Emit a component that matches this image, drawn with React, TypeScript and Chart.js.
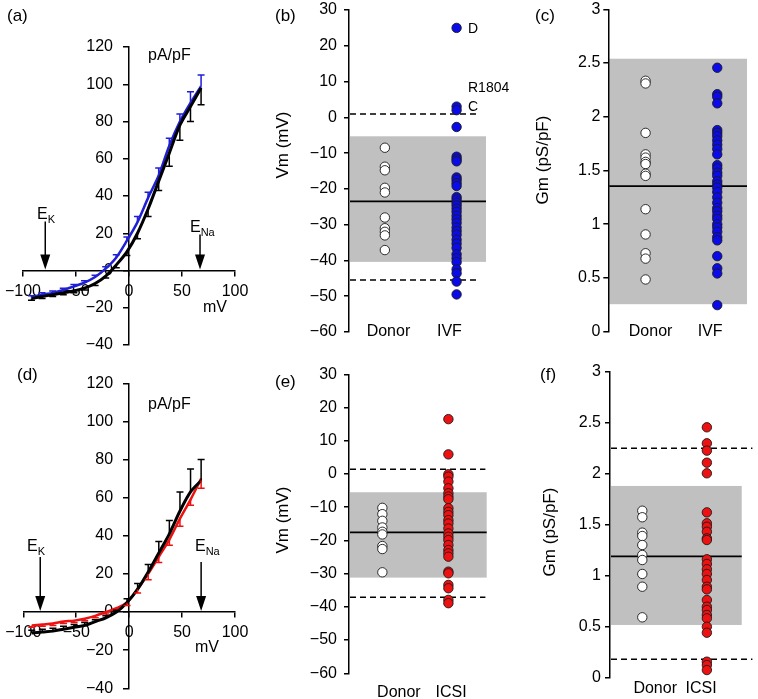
import React, { useEffect, useRef } from 'react';
import { Chart, registerables } from 'chart.js';

Chart.register(...registerables);

const FONT = '"Liberation Sans", Arial, Helvetica, sans-serif';

// ---------------- Data ----------------
// I–V relations (mV, pA/pF)
const ivVoltage = [-92, -82, -72, -62, -52, -42, -32, -22, -12, -2, 8, 18, 28, 38, 48, 58, 68];
const ivfCurrent = [-14.5, -13, -12, -10.5, -8.5, -6.5, -3.5, 1, 7, 16, 26, 39, 51, 67, 80, 90, 99];
const ivfSem = [1, 1, 1, 1, 1, 1, 1, 1, 1.5, 2, 3, 3, 4, 4, 4, 6, 6];
const donorCurrentA = [-15, -14, -13, -12, -11, -9.5, -7, -3, 3, 10, 20, 33, 48, 63, 78, 88, 98];
const donorSemA = [1, 1, 1, 1, 1, 1, 1, 1, 1.5, 2, 3, 4, 5, 7, 8, 8, 9];
const icsiCurrent = [-7, -6.5, -6, -5, -4.5, -3.5, -2, 0, 2, 5, 12, 20, 29, 38, 49, 59, 70];
const icsiSem = [1, 1, 1, 1, 1, 1, 1, 1, 1, 1.5, 2, 3, 3, 3, 4, 3, 5];
const donorCurrentD = [-11, -10.5, -10, -9, -8, -7, -5, -3, 0, 5, 12, 21, 31, 41, 53, 63, 69];
const donorSemD = [1.5, 1.5, 1.5, 1.5, 1.5, 1.5, 1, 1, 1, 2, 3, 4, 6, 7, 10, 12, 11];
const reversalIVF = [-79, 67]; // E_K, E_Na
const reversalICSI = [-84, 68];

// Categories
const groupsIVF = ['Donor', 'IVF'];
const groupsICSI = ['Donor', 'ICSI'];

// Membrane potential (mV)
const vmDonorIVF = [-8.5, -13.8, -14.8, -19.7, -21, -28, -31, -32, -33, -37.1];
const vmIVF = [25, 3, 2, -2.7, -11, -11.7, -12.3, -16.8, -17.5, -18.4, -19.2, -22.3, -23, -23.8, -24.6, -25.5, -26.4, -27.5, -28.5, -29.5, -30.8, -31.8, -32.8, -34.2, -35.3, -36.5, -38.3, -39.4, -40.5, -42.5, -43.6, -45.9, -49.5];
const vmDonorICSI = [-10.2, -12.1, -14.1, -16.1, -17.4, -18.2, -21.7, -22.6, -29.6];
const vmICSI = [16.5, 5.9, -0.1, -0.8, -2.3, -4.3, -5.8, -6.8, -7.6, -10.3, -11.4, -12.4, -13.9, -14.9, -16.4, -17.9, -18.9, -19.9, -21.4, -22.9, -23.9, -24.9, -29.4, -29.9, -33.4, -34.4, -37.9, -38.9];

// Membrane conductance (pS/pF)
const gmDonorIVF = [2.335, 2.31, 1.85, 1.65, 1.62, 1.58, 1.56, 1.47, 1.45, 1.14, 0.905, 0.73, 0.68, 0.486];
const gmIVF = [2.456, 2.21, 2.186, 2.125, 1.876, 1.85, 1.82, 1.78, 1.74, 1.7, 1.65, 1.55, 1.52, 1.48, 1.45, 1.4, 1.37, 1.34, 1.3, 1.25, 1.2, 1.15, 1.12, 1.08, 1.05, 1.0, 0.97, 0.93, 0.88, 0.85, 0.703, 0.59, 0.542, 0.247];
const gmDonorICSI = [1.637, 1.573, 1.422, 1.389, 1.301, 1.203, 1.154, 1.017, 0.892, 0.592];
const gmICSI = [2.455, 2.298, 2.226, 2.108, 2.004, 1.621, 1.514, 1.48, 1.431, 1.366, 1.35, 1.161, 1.115, 1.063, 1.017, 0.958, 0.892, 0.866, 0.762, 0.696, 0.664, 0.615, 0.582, 0.5, 0.441, 0.157, 0.124, 0.075];

// Donor reference range (band top/bottom), mean, and limits
const vmBandIVF = [-5.3, -40.4];
const vmMeanIVF = -23.5;
const vmLimitsIVF = [0.9, -45.5];
const gmBandIVF = [2.54, 0.256];
const gmMeanIVF = 1.355;
const vmBandICSI = [-5.5, -31.2];
const vmMeanICSI = -17.6;
const vmLimitsICSI = [1.4, -37.1];
const gmBandICSI = [1.88, 0.517];
const gmMeanICSI = 1.19;
const gmLimitsICSI = [2.249, 0.18];

// Annotated cells in (b)
const notedCells = [
  { value: 25, label: 'D' },
  { value: 3, label: 'R1804' },
  { value: 2, label: 'C' },
];

// ---------------- helpers ----------------
const fmt = (v: number) => String(+v.toFixed(3)).replace('-', '\u2212');

function text(ctx: CanvasRenderingContext2D, s: string, x: number, y: number, size: number, align: CanvasTextAlign = 'left') {
  ctx.save();
  ctx.font = `${size}px ${FONT}`;
  ctx.fillStyle = '#000';
  ctx.textAlign = align;
  ctx.textBaseline = 'middle';
  ctx.fillText(s, x, y);
  ctx.restore();
}

function subText(ctx: CanvasRenderingContext2D, main: string, sub: string, x: number, y: number) {
  text(ctx, main, x, y, 16);
  ctx.save();
  ctx.font = `16px ${FONT}`;
  const w = ctx.measureText(main).width;
  ctx.restore();
  text(ctx, sub, x + w, y + 5, 11);
}

function vText(ctx: CanvasRenderingContext2D, s: string, x: number, y: number, size: number) {
  ctx.save();
  ctx.translate(x, y);
  ctx.rotate(-Math.PI / 2);
  text(ctx, s, 0, 0, size, 'center');
  ctx.restore();
}

function arrowDown(ctx: CanvasRenderingContext2D, x: number, yTop: number, yTip: number) {
  ctx.save();
  ctx.strokeStyle = '#000';
  ctx.fillStyle = '#000';
  ctx.lineWidth = 1.5;
  ctx.beginPath();
  ctx.moveTo(x, yTop);
  ctx.lineTo(x, yTip - 12);
  ctx.stroke();
  ctx.beginPath();
  ctx.moveTo(x - 5, yTip - 15);
  ctx.lineTo(x + 5, yTip - 15);
  ctx.lineTo(x, yTip);
  ctx.closePath();
  ctx.fill();
  ctx.restore();
}

function hLine(ctx: CanvasRenderingContext2D, x1: number, x2: number, y: number, dash: number[], w = 1.5) {
  ctx.save();
  ctx.strokeStyle = '#000';
  ctx.lineWidth = w;
  ctx.setLineDash(dash);
  ctx.beginPath();
  ctx.moveTo(x1, y);
  ctx.lineTo(x2, y);
  ctx.stroke();
  ctx.restore();
}

const zeroPad = (scale: any) => {
  scale.paddingTop = 0;
  scale.paddingBottom = 0;
  scale.paddingLeft = 0;
  scale.paddingRight = 0;
};

const axisGrid = { display: true, drawOnChartArea: false, drawTicks: true, tickLength: 5, color: '#000', lineWidth: 1.5 };
const axisBorder = { display: true, color: '#000', width: 1.5 };

// ---------------- I–V panel ----------------
type IVSpec = {
  colored: number[];
  coloredSem: number[];
  color: string;
  donor: number[];
  donorSem: number[];
  donorDir: number;
  coloredDir: number;
  reversal: number[];
  padding: { left: number; right: number; top: number; bottom: number };
  deco: (ctx: CanvasRenderingContext2D, chart: any) => void;
};

function ivConfig(s: IVSpec): any {
  const pts = (vals: number[]) => ivVoltage.map((v, i) => ({ x: v, y: vals[i] }));
  const errPlugin = {
    id: 'errbars',
    afterDatasetsDraw(chart: any) {
      const ctx = chart.ctx as CanvasRenderingContext2D;
      const xs = chart.scales.x;
      const ys = chart.scales.y;
      const draw = (vals: number[], sem: number[], dir: number, color: string) => {
        ctx.save();
        ctx.strokeStyle = color;
        ctx.lineWidth = 1.5;
        vals.forEach((v, i) => {
          const x = xs.getPixelForValue(ivVoltage[i]);
          const y0 = ys.getPixelForValue(v);
          const y1 = ys.getPixelForValue(v + dir * sem[i]);
          ctx.beginPath();
          ctx.moveTo(x, y0);
          ctx.lineTo(x, y1);
          ctx.moveTo(x - 3.5, y1);
          ctx.lineTo(x + 3.5, y1);
          ctx.stroke();
        });
        ctx.restore();
      };
      draw(s.colored, s.coloredSem, s.coloredDir, s.color);
      draw(s.donor, s.donorSem, s.donorDir, '#000');
    },
    afterDraw(chart: any) {
      const ctx = chart.ctx as CanvasRenderingContext2D;
      const xs = chart.scales.x;
      const ys = chart.scales.y;
      s.deco(ctx, { x: (v: number) => xs.getPixelForValue(v), y: (v: number) => ys.getPixelForValue(v) });
    },
  };
  return {
    type: 'scatter',
    data: {
      datasets: [
        {
          data: pts(s.donor),
          showLine: true,
          borderColor: '#000',
          borderWidth: 3,
          pointRadius: 0,
          tension: 0.3,
        },
        {
          data: pts(s.colored),
          showLine: true,
          borderColor: s.color,
          borderWidth: 2.5,
          pointRadius: 0,
          tension: 0.3,
        },
      ],
    },
    options: {
      animation: false,
      responsive: false,
      events: [],
      layout: { padding: s.padding },
      plugins: { legend: { display: false }, tooltip: { enabled: false } },
      scales: {
        x: {
          type: 'linear',
          min: -100,
          max: 100,
          position: { y: 0 },
          afterFit: zeroPad,
          ticks: { stepSize: 50, color: '#000', font: { family: FONT, size: 16 }, padding: 6, maxRotation: 0, autoSkip: false, callback: (v: any) => fmt(+v) },
          grid: axisGrid,
          border: axisBorder,
        },
        y: {
          type: 'linear',
          min: -40,
          max: 120,
          position: { x: 0 },
          afterFit: zeroPad,
          ticks: {
            stepSize: 20,
            color: '#000',
            font: { family: FONT, size: 16 },
            padding: 6,
            autoSkip: false,
            // labels of a centred axis are right-aligned on the axis line; keep a gap
            callback: (v: any) => fmt(+v) + '\u2002\u2002',
          },
          grid: axisGrid,
          border: axisBorder,
        },
      },
    },
    plugins: [errPlugin],
  };
}

// ---------------- scatter panel ----------------
type ScatterSpec = {
  groups: string[];
  donor: number[];
  patient: number[];
  color: string;
  yMin: number;
  yMax: number;
  yStep: number;
  xMin: number;
  xMax: number;
  labelX: number[];
  labelPad: number;
  tickPad: number;
  axisWidth: number;
  padding: { left: number; right: number; top: number; bottom: number };
  band: number[];
  bandRight: number;
  mean: number;
  limits?: number[];
  limitRight?: number;
  deco: (ctx: CanvasRenderingContext2D, p: any) => void;
};

function scatterConfig(s: ScatterSpec): any {
  const plugin = {
    id: 'ranges',
    beforeDraw(chart: any) {
      const ctx = chart.ctx as CanvasRenderingContext2D;
      const xs = chart.scales.x;
      const ys = chart.scales.y;
      const x1 = xs.getPixelForValue(s.xMin) + 1;
      const x2 = xs.getPixelForValue(s.bandRight);
      const yT = ys.getPixelForValue(s.band[0]);
      const yB = ys.getPixelForValue(s.band[1]);
      ctx.save();
      ctx.fillStyle = '#c0c0c0';
      ctx.fillRect(x1, yT, x2 - x1, yB - yT);
      ctx.restore();
    },
    beforeDatasetsDraw(chart: any) {
      const ctx = chart.ctx as CanvasRenderingContext2D;
      const xs = chart.scales.x;
      const ys = chart.scales.y;
      const x1 = xs.getPixelForValue(s.xMin) + 1;
      hLine(ctx, x1, xs.getPixelForValue(s.bandRight), ys.getPixelForValue(s.mean), [], 1.8);
      if (s.limits && s.limitRight !== undefined) {
        s.limits.forEach((l) => hLine(ctx, x1, xs.getPixelForValue(s.limitRight as number), ys.getPixelForValue(l), [6, 4], 1.5));
      }
    },
    afterDraw(chart: any) {
      const ctx = chart.ctx as CanvasRenderingContext2D;
      const xs = chart.scales.x;
      const ys = chart.scales.y;
      s.deco(ctx, { x: (v: number) => xs.getPixelForValue(v), y: (v: number) => ys.getPixelForValue(v) });
    },
  };
  return {
    type: 'scatter',
    data: {
      datasets: [
        {
          data: s.patient.map((v) => ({ x: 1, y: v })),
          backgroundColor: s.color,
          borderColor: '#1a1a1a',
          borderWidth: 0.9,
          pointRadius: 4.7,
        },
        {
          data: s.donor.map((v) => ({ x: 0, y: v })),
          backgroundColor: '#ffffff',
          borderColor: '#1a1a1a',
          borderWidth: 0.9,
          pointRadius: 4.7,
        },
      ],
    },
    options: {
      animation: false,
      responsive: false,
      events: [],
      layout: { padding: s.padding },
      plugins: { legend: { display: false }, tooltip: { enabled: false } },
      scales: {
        x: {
          type: 'linear',
          min: s.xMin,
          max: s.xMax,
          position: { y: s.yMin },
          afterFit: zeroPad,
          afterBuildTicks: (scale: any) => {
            scale.ticks = s.labelX.map((v) => ({ value: v }));
          },
          ticks: {
            color: '#000',
            font: { family: FONT, size: 16 },
            padding: s.labelPad,
            maxRotation: 0,
            autoSkip: false,
            callback: (_v: any, i: number) => s.groups[i],
          },
          grid: { display: false, drawTicks: false },
          border: { display: false },
        },
        y: {
          type: 'linear',
          min: s.yMin,
          max: s.yMax,
          position: 'left',
          afterFit: (scale: any) => {
            zeroPad(scale);
            scale.width = s.axisWidth;
          },
          ticks: { stepSize: s.yStep, color: '#000', font: { family: FONT, size: 16 }, padding: s.tickPad, autoSkip: false, callback: (v: any) => fmt(+v) },
          grid: axisGrid,
          border: axisBorder,
        },
      },
    },
    plugins: [plugin],
  };
}

// ---------------- panels ----------------
type PanelDef = { left: number; top: number; width: number; height: number; make: () => any };

const panels: PanelDef[] = [
  {
    left: 0, top: 0, width: 250, height: 360,
    make: () => ivConfig({
      colored: ivfCurrent, coloredSem: ivfSem, coloredDir: 1, color: '#1f1fd6',
      donor: donorCurrentA, donorSem: donorSemA, donorDir: -1,
      reversal: reversalIVF,
      padding: { left: 23, right: 15, top: 47, bottom: 15 },
      deco: (ctx, p) => {
        text(ctx, '(a)', 7, 16, 17);
        text(ctx, 'pA/pF', 148, 56, 16);
        text(ctx, 'mV', 203, 308, 16);
        const y0 = p.y(0);
        subText(ctx, 'E', 'K', 37, 215);
        arrowDown(ctx, p.x(reversalIVF[0]), y0 - 49, y0 - 1);
        subText(ctx, 'E', 'Na', 190, 228);
        arrowDown(ctx, p.x(reversalIVF[1]), y0 - 36, y0 - 1);
      },
    }),
  },
  {
    left: 250, top: 0, width: 265, height: 360,
    make: () => scatterConfig({
      groups: groupsIVF, donor: vmDonorIVF, patient: vmIVF, color: '#0b0bea',
      yMin: -60, yMax: 30, yStep: 10, xMin: -0.5, xMax: 1.41,
      labelX: [0.05, 0.9], labelPad: -9.6, tickPad: 7, axisWidth: 79,
      padding: { left: 20, right: 29, top: 10, bottom: 28 },
      band: vmBandIVF, bandRight: 1.41, mean: vmMeanIVF, limits: vmLimitsIVF, limitRight: 1.325,
      deco: (ctx, p) => {
        text(ctx, '(b)', 25, 16, 17);
        vText(ctx, 'Vm (mV)', 33, 145, 17);
        text(ctx, notedCells[0].label, 218, p.y(notedCells[0].value) + 1, 14);
        text(ctx, notedCells[1].label, 218, p.y(notedCells[1].value) - 18, 14);
        text(ctx, notedCells[2].label, 218, p.y(notedCells[2].value) - 3, 14);
      },
    }),
  },
  {
    left: 500, top: 0, width: 258, height: 360,
    make: () => scatterConfig({
      groups: groupsIVF, donor: gmDonorIVF, patient: gmIVF, color: '#0b0bea',
      yMin: 0, yMax: 3, yStep: 0.5, xMin: -0.52, xMax: 1.415,
      labelX: [0.07, 0.9], labelPad: -9.6, tickPad: 3, axisWidth: 88.3,
      padding: { left: 20, right: 11, top: 9.3, bottom: 28.3 },
      band: gmBandIVF, bandRight: 1.415, mean: gmMeanIVF,
      deco: (ctx) => {
        text(ctx, '(c)', 35, 16, 17);
        vText(ctx, 'Gm (pS/pF)', 43, 160, 17);
      },
    }),
  },
  {
    left: 0, top: 340, width: 250, height: 359,
    make: () => ivConfig({
      colored: icsiCurrent, coloredSem: icsiSem, coloredDir: -1, color: '#ee1111',
      donor: donorCurrentD, donorSem: donorSemD, donorDir: 1,
      reversal: reversalICSI,
      padding: { left: 23.3, right: 15, top: 43.3, bottom: 10.7 },
      deco: (ctx, p) => {
        text(ctx, '(d)', 17, 35, 17);
        text(ctx, 'pA/pF', 148, 65, 16);
        text(ctx, 'mV', 195, 308, 16);
        const y0 = p.y(0);
        subText(ctx, 'E', 'K', 27, 207);
        arrowDown(ctx, p.x(reversalICSI[0]), y0 - 55, y0 - 1);
        subText(ctx, 'E', 'Na', 195, 207);
        arrowDown(ctx, p.x(reversalICSI[1]), y0 - 50, y0 - 1);
      },
    }),
  },
  {
    left: 250, top: 340, width: 265, height: 359,
    make: () => scatterConfig({
      groups: groupsICSI, donor: vmDonorICSI, patient: vmICSI, color: '#ee1111',
      yMin: -60, yMax: 30, yStep: 10, xMin: -0.505, xMax: 1.58,
      labelX: [0.25, 1.04], labelPad: 10.1, tickPad: 7, axisWidth: 79,
      padding: { left: 20, right: 28.3, top: 34.3, bottom: 25.7 },
      band: vmBandICSI, bandRight: 1.58, mean: vmMeanICSI, limits: vmLimitsICSI, limitRight: 1.56,
      deco: (ctx) => {
        text(ctx, '(e)', 25, 42, 17);
        vText(ctx, 'Vm (mV)', 33, 180, 17);
      },
    }),
  },
  {
    left: 500, top: 340, width: 258, height: 359,
    make: () => scatterConfig({
      groups: groupsICSI, donor: gmDonorICSI, patient: gmICSI, color: '#ee1111',
      yMin: 0, yMax: 3, yStep: 0.5, xMin: -0.5, xMax: 1.705,
      labelX: [0.2, 0.91], labelPad: 1, tickPad: 4, axisWidth: 90,
      padding: { left: 20, right: 1, top: 31.7, bottom: 21.3 },
      band: gmBandICSI, bandRight: 1.54, mean: gmMeanICSI, limits: gmLimitsICSI, limitRight: 1.705,
      deco: (ctx) => {
        text(ctx, '(f)', 40, 35, 17);
        vText(ctx, 'Gm (pS/pF)', 50, 192, 17);
      },
    }),
  },
];

function ChartPanel({ def }: { def: PanelDef }) {
  const ref = useRef<HTMLCanvasElement>(null);
  useEffect(() => {
    const chart = new Chart(ref.current as HTMLCanvasElement, def.make());
    return () => chart.destroy();
  }, []);
  return (
    <canvas
      ref={ref}
      width={def.width}
      height={def.height}
      style={{ position: 'absolute', left: def.left, top: def.top, width: def.width, height: def.height }}
    />
  );
}

export default function App() {
  return (
    <div style={{ position: 'fixed', left: 0, top: 0, width: 758, height: 699, background: '#fff', overflow: 'hidden' }}>
      {panels.map((d, i) => (
        <ChartPanel key={i} def={d} />
      ))}
    </div>
  );
}
